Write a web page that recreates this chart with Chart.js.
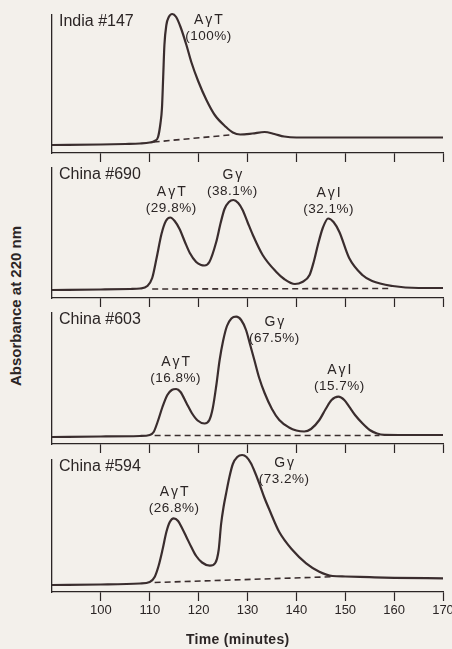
<!DOCTYPE html>
<html>
<head>
<meta charset="utf-8">
<script src="https://cdn.jsdelivr.net/npm/chart.js@4.4.1/dist/chart.umd.min.js"></script>
<style>
    html, body { margin: 0; padding: 0; background: #f3f0eb; }
    #wrap { position: relative; width: 452px; height: 649px; overflow: hidden; }
    #wrap canvas { position: absolute; left: 0; }
    #ylab {
        position: absolute; left: 15px; top: 306px;
        transform: translate(-50%, -50%) rotate(-90deg);
        white-space: nowrap;
        font: bold 15px "Liberation Sans", Arial, sans-serif;
        color: #2b2525;
    }
</style>
</head>
<body>
<div id="wrap">
    <div id="ylab">Absorbance at 220 nm</div>
    <canvas id="p1"></canvas>
    <canvas id="p2"></canvas>
    <canvas id="p3"></canvas>
    <canvas id="p4"></canvas>
</div>
<script>
// x axis (time, minutes)
const X_MIN = 90, X_MAX = 170;
const X_TICKS = [100, 110, 120, 130, 140, 150, 160, 170];
const X_TITLE = 'Time (minutes)';

// India #147
const IND147_T = [90, 100, 105, 108, 110, 111, 111.7, 112.2, 112.5, 112.75, 113, 113.4, 113.9, 114.6, 115.4, 116.3, 117.5, 118.5, 119.9, 121.6, 123.3, 125.6, 127, 128.5, 131, 133.5, 135.5, 137.5, 140, 150, 160, 170];
const IND147_A = [8, 8.5, 9, 9.5, 10.5, 12, 16, 30, 45, 76, 108, 128, 136, 139, 136, 126, 108, 91, 72, 53, 38, 26, 20.5, 18.5, 19.5, 21, 19, 16.5, 15.5, 15.5, 15.5, 15.5];
const IND147_BASE_T = [110.8, 126.3];
const IND147_BASE_A = [11, 18];

// China #690
const CHN690_T = [90, 100, 106, 108, 109.5, 110.5, 111.4, 112.4, 113.3, 114.2, 115.1, 116.1, 117.2, 118.2, 119.5, 120.5, 121.2, 122.2, 123.6, 124.5, 125.3, 126.2, 127.1, 128.1, 129, 130, 131.1, 133.1, 135.9, 137.5, 139.7, 141.2, 142.7, 143.6, 144.4, 145.4, 146.5, 147.6, 148.8, 150.8, 153.5, 155.5, 159.7, 165, 170];
const CHN690_A = [8, 8.5, 9, 9.5, 12, 20, 40, 64, 77, 80.5, 77, 69, 56, 45, 36, 33, 32.5, 36, 56, 75, 89, 96, 98, 95, 88, 76, 63, 43, 26, 19, 14, 16, 23, 37, 53, 70, 79.5, 76, 66, 40, 23, 17, 12, 10, 10];
const CHN690_BASE_T = [110.5, 159];
const CHN690_BASE_A = [9, 9.5];

// China #603
const CHN603_T = [90, 100, 108, 110, 110.8, 111.6, 112.6, 113.6, 114.5, 115.4, 116.3, 117.5, 118.6, 119.8, 121.2, 122.2, 122.9, 123.6, 124.3, 125, 125.8, 126.7, 127.7, 128.7, 129.7, 130.5, 131.4, 132.4, 133.5, 135, 136.5, 138.5, 140, 141.6, 143, 144.7, 146, 147.2, 148.6, 149.8, 150.8, 152, 153.5, 155, 156.5, 158, 165, 170];
const CHN603_A = [7, 7.5, 8, 9, 12, 22, 37, 49, 54, 55, 52, 41, 31, 23.5, 20.5, 24, 36, 58, 84, 103, 118, 125.5, 127.3, 124, 114, 100, 84, 66, 51, 35, 24, 16.5, 13.5, 12.5, 15, 24, 35, 44, 47.3, 44, 37.3, 29, 20.7, 14, 10.5, 9.2, 9, 9];
const CHN603_BASE_T = [111, 157];
const CHN603_BASE_A = [8.5, 8.5];

// China #594
const CHN594_T = [90, 100, 108, 110, 111, 111.8, 112.6, 113.4, 114.1, 114.9, 115.8, 116.7, 117.5, 118.5, 119.5, 120.7, 122.3, 123.4, 124.1, 124.6, 125.1, 125.6, 126.3, 127, 127.9, 128.9, 129.8, 130.7, 131.5, 132.4, 133.4, 134.5, 136.5, 139.2, 142, 144.7, 147.4, 150, 155, 160, 170];
const CHN594_A = [7, 7.5, 8.5, 10, 15, 26, 42, 60, 70, 73.7, 71, 63, 55, 45, 36, 29.5, 26.3, 29, 42, 68, 85, 98, 115, 128, 135, 137, 135, 128.7, 120, 108.7, 95, 82, 60, 42, 28.7, 20.3, 16, 15.5, 14.8, 14.2, 13.7];
const CHN594_BASE_T = [111, 147.5];
const CHN594_BASE_A = [9.5, 15.3];

// peak labels: name, share, and where the label sits (time, absorbance)
const IND147_PEAKS = [{ name: 'AγT', pct: '(100%)', t: 122, a: 133 }];
const CHN690_PEAKS = [
    { name: 'AγT', pct: '(29.8%)', t: 114.4, a: 106 },
    { name: 'Gγ', pct: '(38.1%)', t: 126.9, a: 123 },
    { name: 'AγI', pct: '(32.1%)', t: 146.6, a: 105 }
];
const CHN603_PEAKS = [
    { name: 'AγT', pct: '(16.8%)', t: 115.3, a: 82 },
    { name: 'Gγ', pct: '(67.5%)', t: 135.5, a: 122 },
    { name: 'AγI', pct: '(15.7%)', t: 148.8, a: 74 }
];
const CHN594_PEAKS = [
    { name: 'AγT', pct: '(26.8%)', t: 115, a: 100 },
    { name: 'Gγ', pct: '(73.2%)', t: 137.5, a: 129 }
];

const FONT = '"Liberation Sans", Arial, sans-serif';
const INK = '#2b2525';
const TRACE = '#3a2d2e';

// panel placement on the page (plot area top / bottom in px)
const PANELS = [
    { id: 'p1', title: 'India #147', t: IND147_T, a: IND147_A, bt: IND147_BASE_T, ba: IND147_BASE_A, peaks: IND147_PEAKS, top: 15, bottom: 153 },
    { id: 'p2', title: 'China #690', t: CHN690_T, a: CHN690_A, bt: CHN690_BASE_T, ba: CHN690_BASE_A, peaks: CHN690_PEAKS, top: 168, bottom: 298 },
    { id: 'p3', title: 'China #603', t: CHN603_T, a: CHN603_A, bt: CHN603_BASE_T, ba: CHN603_BASE_A, peaks: CHN603_PEAKS, top: 313, bottom: 444 },
    { id: 'p4', title: 'China #594', t: CHN594_T, a: CHN594_A, bt: CHN594_BASE_T, ba: CHN594_BASE_A, peaks: CHN594_PEAKS, top: 460, bottom: 592, last: true }
];

const PAD_TOP = 8;
const CANVAS_W = 460;

const labelPlugin = {
    id: 'peakLabels',
    afterDatasetsDraw(chart, args, opts) {
        const { ctx, chartArea, scales: { x, y } } = chart;
        ctx.save();
        ctx.fillStyle = INK;
        ctx.textBaseline = 'middle';
        ctx.textAlign = 'left';
        ctx.font = `16px ${FONT}`;
        ctx.fillText(opts.title, chartArea.left + 7, chartArea.top + 7);
        ctx.textAlign = 'center';
        opts.peaks.forEach(p => {
            const px = x.getPixelForValue(p.t);
            const py = y.getPixelForValue(p.a);
            ctx.font = `14px ${FONT}`;
            ctx.letterSpacing = '2px';
            ctx.fillText(p.name, px + 1, py);
            ctx.font = `13.5px ${FONT}`;
            ctx.letterSpacing = '0.5px';
            ctx.fillText(p.pct, px, py + 16.5);
        });
        // axis title of the bottom panel, sits a little left of centre
        if (opts.xTitle) {
            ctx.letterSpacing = '0.3px';
            ctx.font = `bold 14px ${FONT}`;
            ctx.fillText(opts.xTitle, x.getPixelForValue(128), chart.height - 9);
        }
        ctx.restore();
    }
};

function makePanel(p) {
    const canvas = document.getElementById(p.id);
    const axisH = p.last ? 649 - p.bottom : 12;
    const h = PAD_TOP + (p.bottom - p.top) + axisH;
    canvas.width = CANVAS_W;
    canvas.height = h;
    canvas.style.top = (p.top - PAD_TOP) + 'px';

    new Chart(canvas, {
        type: 'line',
        data: {
            datasets: [{
                data: p.t.map((t, i) => ({ x: t, y: p.a[i] })),
                borderColor: TRACE,
                borderWidth: 2.2,
                pointRadius: 0,
                cubicInterpolationMode: 'monotone',
                clip: false
            }, {
                data: p.bt.map((t, i) => ({ x: t, y: p.ba[i] })),
                borderColor: TRACE,
                borderWidth: 1.6,
                borderDash: [6, 4],
                pointRadius: 0
            }]
        },
        options: {
            responsive: false,
            animation: false,
            devicePixelRatio: 1,
            layout: { padding: { left: 52, right: CANVAS_W - 443, top: PAD_TOP, bottom: 0 } },
            plugins: {
                legend: { display: false },
                tooltip: { enabled: false },
                peakLabels: { title: p.title, peaks: p.peaks, xTitle: p.last ? X_TITLE : '' }
            },
            scales: {
                x: {
                    type: 'linear',
                    min: X_MIN,
                    max: X_MAX,
                    afterBuildTicks: s => { s.ticks = X_TICKS.map(v => ({ value: v })); },
                    afterFit: s => { s.height = axisH; },
                    border: { display: true, color: INK, width: 1.3 },
                    grid: { drawOnChartArea: false, drawTicks: true, tickLength: 9, tickColor: INK, tickWidth: 1.2 },
                    ticks: {
                        display: !!p.last,
                        color: INK,
                        padding: 2,
                        maxRotation: 0,
                        font: { family: FONT, size: 13 }
                    }
                },
                y: {
                    min: 0,
                    max: p.bottom - p.top,
                    afterFit: s => { s.width = 0; },
                    border: { display: true, color: INK, width: 1.3 },
                    grid: { display: false },
                    ticks: { display: false }
                }
            }
        },
        plugins: [labelPlugin]
    });
}

PANELS.forEach(makePanel);
</script>
</body>
</html>
